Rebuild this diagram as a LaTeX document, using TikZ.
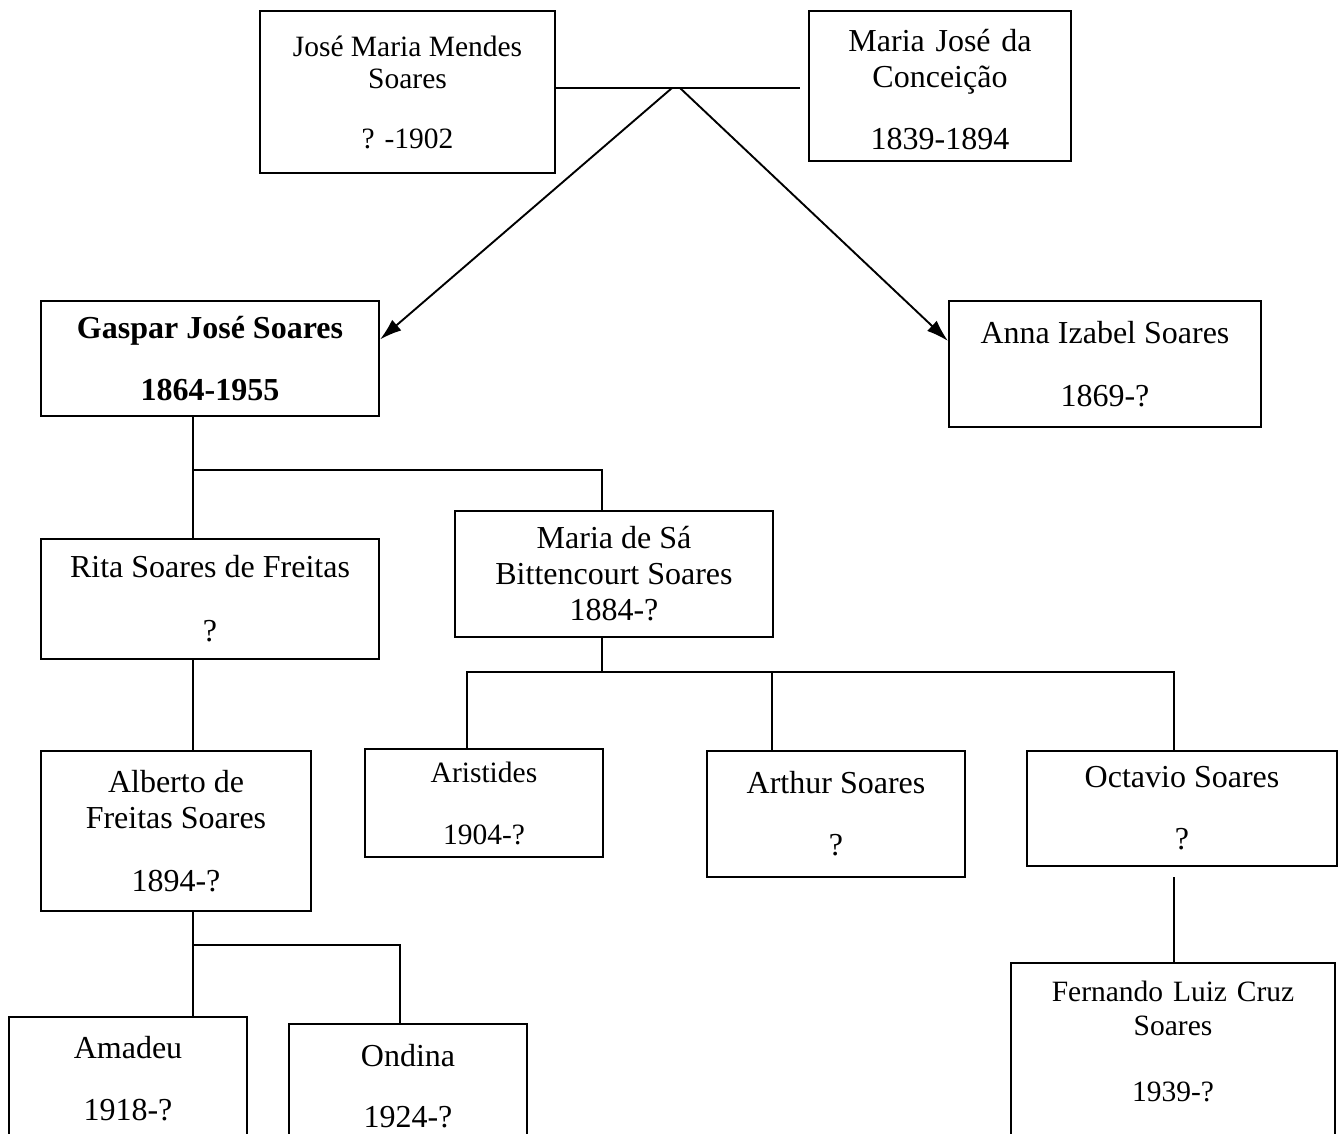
\documentclass[tikz,border=0pt]{standalone}
\usepackage{fontspec}
\setmainfont{Liberation Serif}
\usetikzlibrary{arrows.meta}

\tikzset{
    person/.style={draw, rectangle, line width=2pt, inner sep=0pt, anchor=north west, align=center, font=\fontsize{32}{36}\selectfont},
    smallname/.style={font=\fontsize{29.5}{32}\selectfont},
    link/.style={line width=1.9pt},
    descent/.style={link, -{Latex[length=22pt,width=14pt]}}
}

\begin{document}
\begin{tikzpicture}[x=1pt,y=-1pt]
        \clip (0,0) rectangle (1340,1133);

        \node[person, smallname, minimum width=295pt, minimum height=162pt] (jose) at (259,10) {José Maria Mendes\\Soares\\[28pt]? -1902};
        \node[person, text width=262pt, text height=40pt, text depth=110pt] (mjose) at (808,10) {Maria José da\\Conceição\\[26pt]1839-1894};
        \node[person, font=\fontsize{32}{36}\selectfont\bfseries, minimum width=338pt, minimum height=115pt] (gaspar) at (40,300) {Gaspar José Soares\\[26pt]1864-1955};
        \node[person, minimum width=312pt, minimum height=126pt] (anna) at (948,300) {Anna Izabel Soares\\[27pt]1869-?};
        \node[person, minimum width=338pt, minimum height=120pt] (rita) at (40,538) {Rita Soares de Freitas\\[28pt]?};
        \node[person, minimum width=318pt, minimum height=126pt] (mariasa) at (454,510) {Maria de Sá\\Bittencourt Soares\\1884-?};
        \node[person, minimum width=270pt, minimum height=160pt] (alberto) at (40,750) {Alberto de\\Freitas Soares\\[27pt]1894-?};
        \node[person, smallname, minimum width=238pt, minimum height=108pt] (aristides) at (364,748) {Aristides\\[30pt]1904-?};
        \node[person, minimum width=258pt, minimum height=126pt] (arthur) at (706,750) {Arthur Soares\\[26pt]?};
        \node[person, minimum width=310pt, minimum height=115pt] (octavio) at (1026,750) {Octavio Soares\\[26pt]?};
        \node[person, smallname, text width=324pt, text height=38pt, text depth=200pt] (fernando) at (1010,962) {Fernando Luiz Cruz\\[2pt]Soares\\[34pt]1939-?};
        \node[person, minimum width=238pt, minimum height=124pt] (amadeu) at (8,1016) {Amadeu\\[26pt]1918-?};
        \node[person, minimum width=238pt, minimum height=124pt] (ondina) at (288,1023) {Ondina\\[25pt]1924-?};

        \coordinate (wed) at (680,88);
        \coordinate (gbar) at (193,470);
        \coordinate (mbar) at (602,672);
        \coordinate (mbarl) at (467,672);
        \coordinate (mbarm) at (772,672);
        \coordinate (mbarr) at (1174,672);
        \coordinate (abar) at (193,945);
        \coordinate (abarr) at (400,945);

        \draw[link] (jose.east |- wed) -- ([xshift=-8pt]mjose.west |- wed);
        \draw[descent] ([xshift=-8pt]wed) -- ([yshift=19pt]gaspar.east);
        \draw[descent] (wed) -- ([yshift=23pt]anna.west);

        \draw[link] (gaspar.south -| gbar) -- (rita.north -| gbar);
        \draw[link] (gbar) -| (mariasa.north -| mbar);
        \draw[link] (rita.south -| gbar) -- (alberto.north -| gbar);

        \draw[link] (mariasa.south -| mbar) -- (mbar);
        \draw[link, line width=2.2pt] (mbarl |- aristides.north) -- (mbarl) -- (mbarr) -- (mbarr |- octavio.north);
        \draw[link] (mbarm) -- (mbarm |- arthur.north);
        \draw[link] ([yshift=-10pt]octavio.south -| mbarr) -- (fernando.north -| mbarr);

        \draw[link] (alberto.south -| abar) -- (amadeu.north -| abar);
        \draw[link] (abar) -- (abarr) -- (abarr |- ondina.north);
    \end{tikzpicture}
\end{document}
